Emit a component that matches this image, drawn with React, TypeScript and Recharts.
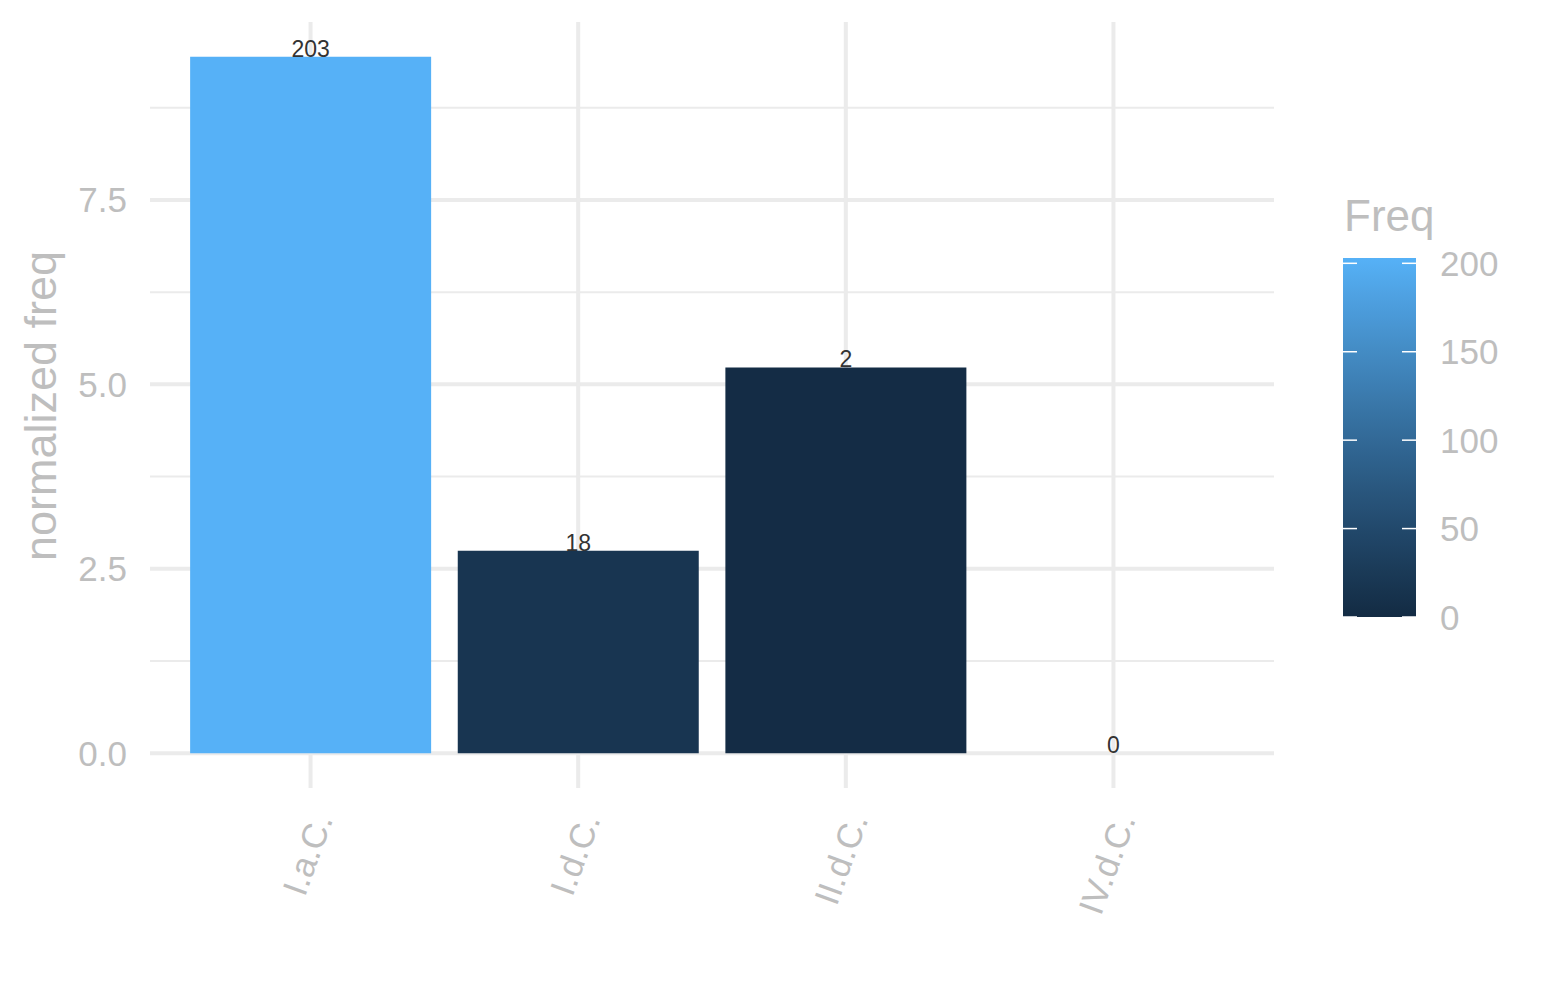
import React from 'react';
import { BarChart, Bar, XAxis, YAxis, CartesianGrid, Cell, LabelList } from 'recharts';

const categories = ['I.a.C.', 'I.d.C.', 'II.d.C.', 'IV.d.C.'];
const normalizedFreq = [9.44, 2.745, 5.23, 0];
const freq = [203, 18, 2, 0];
const yMajorTicks = [0, 2.5, 5, 7.5];
const yMinorTicks = [1.25, 3.75, 6.25, 8.75];
const legendTicks = [0, 50, 100, 150, 200];
const freqLimits = [0, 203];
const lowColor = '#132B43';
const highColor = '#56B1F7';

const data = categories.map((c, i) => ({ cat: c, value: normalizedFreq[i], freq: freq[i] }));

// --- Lab colour interpolation (like ggplot2 scale_fill_gradient) ---
function hexToRgb(h: string) {
  const n = parseInt(h.slice(1), 16);
  return [(n >> 16) & 255, (n >> 8) & 255, n & 255];
}
function toLin(c: number) {
  c /= 255;
  return c <= 0.04045 ? c / 12.92 : Math.pow((c + 0.055) / 1.055, 2.4);
}
function fromLin(c: number) {
  const v = c <= 0.0031308 ? 12.92 * c : 1.055 * Math.pow(c, 1 / 2.4) - 0.055;
  return Math.max(0, Math.min(255, Math.round(v * 255)));
}
const Xn = 0.95047, Yn = 1.0, Zn = 1.08883;
function f(t: number) { return t > 216 / 24389 ? Math.cbrt(t) : (24389 / 27 * t + 16) / 116; }
function finv(t: number) { return t * t * t > 216 / 24389 ? t * t * t : (116 * t - 16) / (24389 / 27); }
function rgbToLab(rgb: number[]) {
  const [r, g, b] = rgb.map(toLin);
  const X = r * 0.4124 + g * 0.3576 + b * 0.1805;
  const Y = r * 0.2126 + g * 0.7152 + b * 0.0722;
  const Z = r * 0.0193 + g * 0.1192 + b * 0.9505;
  const fx = f(X / Xn), fy = f(Y / Yn), fz = f(Z / Zn);
  return [116 * fy - 16, 500 * (fx - fy), 200 * (fy - fz)];
}
function labToHex(lab: number[]) {
  const fy = (lab[0] + 16) / 116;
  const fx = fy + lab[1] / 500;
  const fz = fy - lab[2] / 200;
  const X = finv(fx) * Xn, Y = finv(fy) * Yn, Z = finv(fz) * Zn;
  const r = X * 3.2406 + Y * -1.5372 + Z * -0.4986;
  const g = X * -0.9689 + Y * 1.8758 + Z * 0.0415;
  const b = X * 0.0557 + Y * -0.204 + Z * 1.057;
  return '#' + [r, g, b].map(fromLin).map((v) => v.toString(16).padStart(2, '0')).join('');
}
const labLow = rgbToLab(hexToRgb(lowColor));
const labHigh = rgbToLab(hexToRgb(highColor));
function colorFor(v: number) {
  const t = Math.max(0, Math.min(1, (v - freqLimits[0]) / (freqLimits[1] - freqLimits[0])));
  return labToHex(labLow.map((l, i) => l + (labHigh[i] - l) * t));
}

const FONT = '"Liberation Sans", Arial, Helvetica, sans-serif';
const GREY = '#BEBEBE';
const GRID = '#EBEBEB';

const XTick = (props: any) => {
  const { x, y, payload } = props;
  return (
    <g transform={`translate(${x + 11},${y + 19})`}>
      <text
        textAnchor="end"
        dominantBaseline="central"
        transform="rotate(-70)"
        fill={GREY}
        fontSize={35}
        fontFamily={FONT}
      >
        {payload.value}
      </text>
    </g>
  );
};

const BarValueLabel = (props: any) => {
  const { x, y, width, value } = props;
  if (x == null || y == null) return null;
  return (
    <text x={Number(x) + Number(width || 0) / 2} y={Number(y)} textAnchor="middle" fill="#333333" fontSize={23} fontFamily={FONT}>
      {value}
    </text>
  );
};

const Legend = () => {
  const barX = 1343, barW = 73, barTop = 258, barBottom = 617;
  const yOf = (v: number) => barBottom - ((v - freqLimits[0]) / (freqLimits[1] - freqLimits[0])) * (barBottom - barTop);
  const stops = Array.from({ length: 21 }, (_, i) => i / 20);
  return (
    <svg width={1545} height={1000} style={{ position: 'absolute', left: 0, top: 0, pointerEvents: 'none' }}>
      <defs>
        <linearGradient id="freqGrad" x1="0" y1="1" x2="0" y2="0">
          {stops.map((s) => (
            <stop key={s} offset={s} stopColor={colorFor(freqLimits[0] + s * (freqLimits[1] - freqLimits[0]))} />
          ))}
        </linearGradient>
      </defs>
      <text x={56} y={406} transform="rotate(-90 56 406)" textAnchor="middle" fill={GREY} fontSize={45} fontFamily={FONT}>
        normalized freq
      </text>
      <text x={1344} y={231} fill={GREY} fontSize={44} fontFamily={FONT}>Freq</text>
      <rect x={barX} y={barTop} width={barW} height={barBottom - barTop} fill="url(#freqGrad)" />
      {legendTicks.map((t) => (
        <g key={t}>
          <line x1={barX} x2={barX + 14} y1={yOf(t)} y2={yOf(t)} stroke="#FFFFFF" strokeWidth={1.5} />
          <line x1={barX + barW - 14} x2={barX + barW} y1={yOf(t)} y2={yOf(t)} stroke="#FFFFFF" strokeWidth={1.5} />
          <text x={1440} y={yOf(t)} dominantBaseline="central" fill={GREY} fontSize={35} fontFamily={FONT}>
            {t}
          </text>
        </g>
      ))}
    </svg>
  );
};

export default function App() {
  return (
    <div style={{ position: 'absolute', left: 0, top: 0, width: 1545, height: 1000, background: '#FFFFFF', fontFamily: FONT }}>
      <BarChart
        width={1545}
        height={1000}
        data={data}
        margin={{ top: 22, right: 271, bottom: 0, left: 0 }}
        barCategoryGap="5%"
      >
        <CartesianGrid horizontalValues={yMinorTicks} vertical={false} syncWithTicks stroke={GRID} strokeWidth={2} />
        <CartesianGrid horizontalValues={yMajorTicks} syncWithTicks stroke={GRID} strokeWidth={4} />
        <XAxis
          dataKey="cat"
          height={212}
          padding={{ left: 26.75, right: 26.75 }}
          axisLine={false}
          tickLine={false}
          interval={0}
          tick={<XTick />}
        />
        <YAxis
          type="number"
          width={150}
          domain={[-0.472, 9.912]}
          ticks={yMajorTicks}
          allowDataOverflow
          tickFormatter={(v: number) => v.toFixed(1)}
          axisLine={false}
          tickLine={false}
          tickSize={0}
          tickMargin={23}
          tick={{ fill: GREY, fontSize: 35, fontFamily: FONT }}
        />
        <Bar dataKey="value" isAnimationActive={false} minPointSize={0.01}>
          {data.map((d) => (
            <Cell key={d.cat} fill={colorFor(d.freq)} />
          ))}
          <LabelList dataKey="freq" content={<BarValueLabel />} />
        </Bar>
      </BarChart>
      <Legend />
    </div>
  );
}
